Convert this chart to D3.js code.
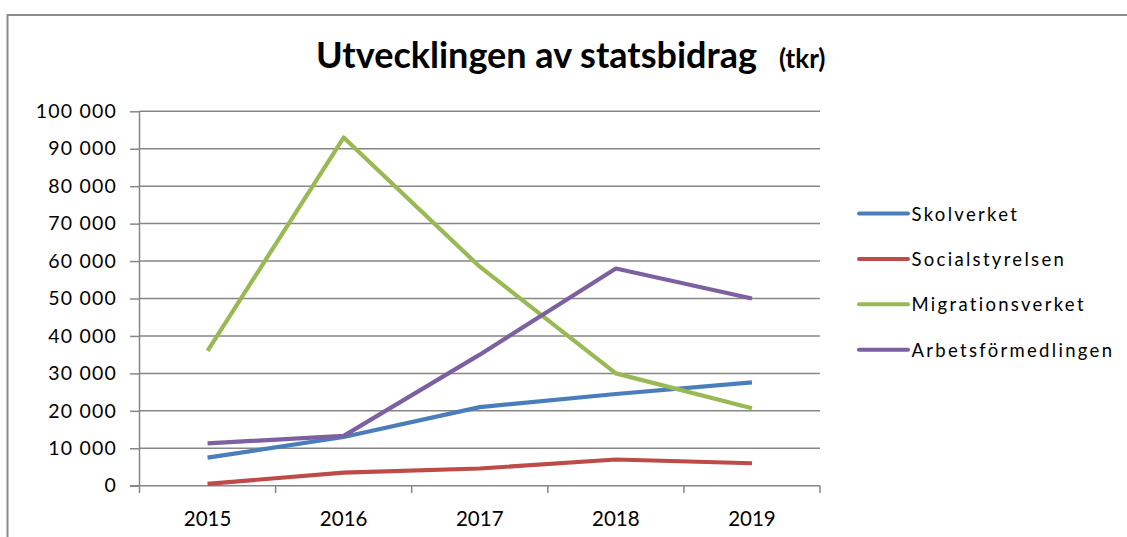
<!DOCTYPE html>
<html><head><meta charset="utf-8">
<script src="https://cdn.jsdelivr.net/npm/d3@7"></script>
<style>html,body{margin:0;padding:0;background:#fff;}svg{display:block;}</style>
</head><body>
<svg id="chart" width="1127" height="537"></svg>
<script>
const years = ["2015","2016","2017","2018","2019"];
const seriesNames = ["Skolverket","Socialstyrelsen","Migrationsverket","Arbetsförmedlingen"];
const skolverket = [7500, 13000, 21000, 24500, 27600];
const socialstyrelsen = [500, 3500, 4600, 7000, 6000];
const migrationsverket = [36000, 93000, 58500, 30000, 20700];
const arbetsformedlingen = [11300, 13300, 35000, 58000, 50000];
const yTicks = [0,10000,20000,30000,40000,50000,60000,70000,80000,90000,100000];
const colors = ["#4A7EBB","#BE4B48","#98B954","#7D60A0"];

const seriesValues = [skolverket, socialstyrelsen, migrationsverket, arbetsformedlingen];
const svg = d3.select("#chart");
const font = "Lato, 'Open Sans', sans-serif";

// outer frame
svg.append("rect").attr("x",7.5).attr("y",15).attr("width",1200).attr("height",600)
  .attr("fill","none").attr("stroke","#8a8a8a").attr("stroke-width",2);

// title
const title = svg.append("text").attr("x",316).attr("y",68)
  .attr("font-family",font).attr("font-weight","bold").attr("fill","#000");
title.append("tspan").attr("font-size",36).text("Utvecklingen av statsbidrag");
title.append("tspan").attr("font-size",26).attr("dx",22).text("(tkr)");

const x = d3.scaleBand().domain(years).range([139.5, 820]);
const y = d3.scaleLinear().domain([0,100000]).range([485.7, 111.3]);

// gridlines
svg.append("g").selectAll("line").data(yTicks.filter(d=>d>0)).join("line")
  .attr("x1",139.5).attr("x2",820).attr("y1",d=>y(d)).attr("y2",d=>y(d))
  .attr("stroke","#868686").attr("stroke-width",1.5);

// y axis
const fmt = d => d3.format(",")(d).replace(/,/g," ");
const yAxis = svg.append("g").attr("transform","translate(139.5,0)")
  .call(d3.axisLeft(y).tickValues(yTicks).tickFormat(fmt).tickSize(9.5).tickPadding(13));
yAxis.select(".domain").attr("stroke","#868686").attr("stroke-width",1.5).attr("d","M0,111.3V493");
yAxis.selectAll(".tick line").attr("stroke","#868686").attr("stroke-width",1.5);
yAxis.selectAll(".tick text").attr("font-family",font).attr("font-size",19.5)
  .attr("letter-spacing",1.2).attr("fill","#000");

// x axis
const xAxis = svg.append("g").attr("transform","translate(0,485.7)")
  .call(d3.axisBottom(x).tickSize(0).tickPadding(26));
xAxis.select(".domain").attr("stroke","#868686").attr("stroke-width",1.5).attr("d","M130,0H820");
xAxis.selectAll(".tick text").attr("font-family",font).attr("font-size",20.5).attr("fill","#000");
const edges = years.map(d=>x(d)).concat([x.range()[1]]).slice(1);
svg.append("g").selectAll("line").data(edges).join("line")
  .attr("x1",d=>d).attr("x2",d=>d).attr("y1",485.7).attr("y2",493)
  .attr("stroke","#868686").attr("stroke-width",1.5);

// lines
const line = d3.line().x((d,i)=>x(years[i])+x.bandwidth()/2).y(d=>y(d));
svg.append("g").selectAll("path").data(seriesValues).join("path")
  .attr("d",d=>line(d)).attr("fill","none")
  .attr("stroke",(d,i)=>colors[i]).attr("stroke-width",4.2)
  .attr("stroke-linejoin","round");

// legend
const leg = svg.append("g").selectAll("g").data(seriesNames).join("g")
  .attr("transform",(d,i)=>`translate(0,${213.5 + i*45.4})`);
leg.append("line").attr("x1",859).attr("x2",908).attr("y1",0).attr("y2",0)
  .attr("stroke",(d,i)=>colors[i]).attr("stroke-width",4).attr("stroke-linecap","round");
leg.append("text").attr("x",911.5).attr("y",7).attr("font-family",font).attr("font-size",18.5)
  .attr("letter-spacing",2.3).attr("fill","#000").text(d=>d);
</script>
</body></html>
